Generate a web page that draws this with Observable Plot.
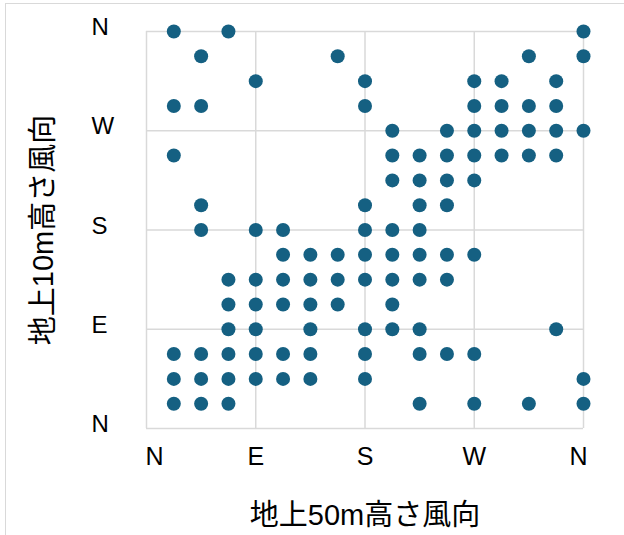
<!DOCTYPE html>
<html>
<head>
<meta charset="utf-8">
<script src="https://cdn.jsdelivr.net/npm/d3@7"></script>
<script src="https://cdn.jsdelivr.net/npm/@observablehq/plot@0.6"></script>
<style>
  html, body { margin: 0; padding: 0; background: #fff; overflow: hidden; }
  #wrap { position: relative; width: 624px; height: 535px; }
  #frame { position: absolute; left: 5px; top: 3px; width: 660px; height: 600px; border: 1.5px solid #d9d9d9; box-sizing: border-box; pointer-events: none; }
  #chart { position: absolute; left: 0; top: 0; }
</style>
</head>
<body>
<div id="wrap"><div id="chart"></div><div id="frame"></div></div>
<script>
// Tick positions (degrees) and compass labels
const tickValues = [0, 90, 180, 270, 360];
const tickLabels = ["N", "E", "S", "W", "N"];

// Wind direction at 50 m (x) and at 10 m (y), degrees, one entry per observed pair
const dir50 = [
  22.5, 67.5, 360,
  45, 157.5, 315, 360,
  90, 180, 270, 292.5, 337.5,
  22.5, 45, 180, 270, 292.5, 315, 337.5,
  202.5, 247.5, 270, 292.5, 315, 337.5, 360,
  22.5, 202.5, 225, 247.5, 270, 292.5, 315, 337.5,
  202.5, 225, 247.5, 270,
  45, 180, 225, 247.5,
  45, 90, 112.5, 180, 202.5, 225,
  112.5, 135, 157.5, 180, 202.5, 225, 247.5, 270,
  67.5, 90, 112.5, 135, 157.5, 180, 202.5, 225, 247.5,
  67.5, 90, 112.5, 135, 157.5, 202.5,
  67.5, 90, 135, 180, 202.5, 225, 337.5,
  22.5, 45, 67.5, 90, 112.5, 135, 180, 225, 247.5, 270,
  22.5, 45, 67.5, 90, 112.5, 135, 180, 360,
  22.5, 45, 67.5, 225, 270, 315, 360
];
const dir10 = [
  360, 360, 360,
  337.5, 337.5, 337.5, 337.5,
  315, 315, 315, 315, 315,
  292.5, 292.5, 292.5, 292.5, 292.5, 292.5, 292.5,
  270, 270, 270, 270, 270, 270, 270,
  247.5, 247.5, 247.5, 247.5, 247.5, 247.5, 247.5, 247.5,
  225, 225, 225, 225,
  202.5, 202.5, 202.5, 202.5,
  180, 180, 180, 180, 180, 180,
  157.5, 157.5, 157.5, 157.5, 157.5, 157.5, 157.5, 157.5,
  135, 135, 135, 135, 135, 135, 135, 135, 135,
  112.5, 112.5, 112.5, 112.5, 112.5, 112.5,
  90, 90, 90, 90, 90, 90, 90,
  67.5, 67.5, 67.5, 67.5, 67.5, 67.5, 67.5, 67.5, 67.5, 67.5,
  45, 45, 45, 45, 45, 45, 45, 45,
  22.5, 22.5, 22.5, 22.5, 22.5, 22.5, 22.5
];

const xTitle = "地上50m高さ風向";
const yTitle = "地上10m高さ風向";

const points = dir50.map((x, i) => ({x, y: dir10[i]}));
const fmt = d => tickLabels[tickValues.indexOf(d)];
const latin = "'Liberation Sans', Arial, sans-serif";
const cjk = "'Liberation Sans', 'Noto Sans CJK JP', sans-serif";

const xTickOpts = {x: d => d, text: fmt, frameAnchor: "bottom", lineAnchor: "top", dy: 19, fontSize: 25, fill: "#000", fontFamily: latin};

const chart = Plot.plot({
  width: 624,
  height: 535,
  marginLeft: 146,
  marginRight: 41,
  marginTop: 31,
  marginBottom: 107,
  style: {fontFamily: latin, color: "#000", background: "#fff", overflow: "visible"},
  x: {domain: [0, 360], axis: null},
  y: {domain: [0, 360], axis: null},
  marks: [
    Plot.gridX(tickValues, {stroke: "#d9d9d9", strokeOpacity: 1, strokeWidth: 1.5}),
    Plot.gridY(tickValues, {stroke: "#d9d9d9", strokeOpacity: 1, strokeWidth: 1.5}),
    Plot.dot(points, {x: "x", y: "y", r: 7, fill: "#156082", stroke: null}),
    Plot.text(tickValues.slice(1, 4), xTickOpts),
    Plot.text([tickValues[0]], {...xTickOpts, dx: 8}),
    Plot.text([tickValues[4]], {...xTickOpts, dx: -5}),
    Plot.text(tickValues, {y: d => d, text: fmt, frameAnchor: "left", textAnchor: "start", dx: -55, dy: -4, fontSize: 24, fill: "#000", fontFamily: latin}),
    Plot.text([xTitle], {frameAnchor: "bottom", dy: 96, fontSize: 29, fill: "#000", fontFamily: cjk}),
    Plot.text([yTitle], {frameAnchor: "left", textAnchor: "middle", dx: -103, rotate: -90, fontSize: 29, fill: "#000", fontFamily: cjk})
  ]
});
document.getElementById("chart").appendChild(chart);
</script>
</body>
</html>
